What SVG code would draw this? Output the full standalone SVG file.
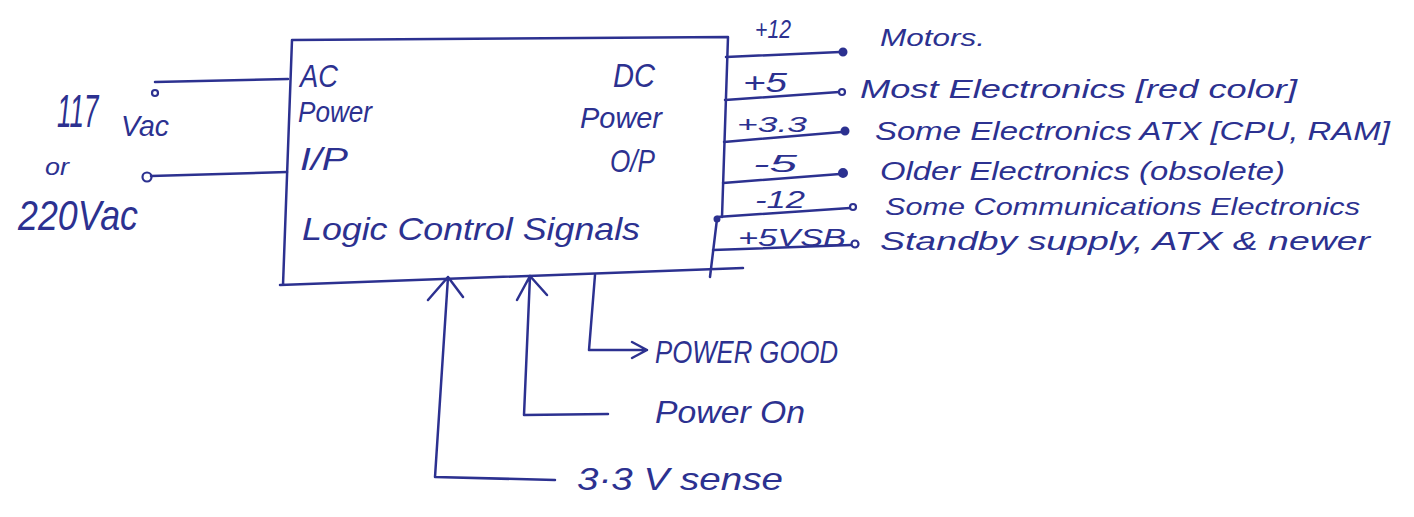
<svg xmlns="http://www.w3.org/2000/svg" width="1414" height="517" viewBox="0 0 1414 517">
<style>
.ink{fill:none;stroke:#2c3190;stroke-width:2.5;stroke-linecap:round;stroke-linejoin:round}
.dot{fill:#2c3190;stroke:#2c3190;stroke-width:2}
.odot{fill:#fff;stroke:#2c3190;stroke-width:2.2}
text{font-family:"Liberation Sans","DejaVu Sans",sans-serif;fill:#2c3190;font-style:italic}
</style>
<rect width="1414" height="517" fill="#fff"/>
<g id="psu">
<path class="ink" d="M292,40 L728,37 L722,217 M717,219 L710,277 M292,40 L283,285 M280,285 L743,268"/>
<circle class="dot" cx="717" cy="219" r="2.5"/>
<text x="300" y="87" font-size="32" textLength="38" lengthAdjust="spacingAndGlyphs">AC</text>
<text x="298" y="122" font-size="30" textLength="74" lengthAdjust="spacingAndGlyphs">Power</text>
<text x="300" y="170" font-size="32" textLength="48" lengthAdjust="spacingAndGlyphs">I/P</text>
<text x="613" y="87" font-size="34" textLength="42" lengthAdjust="spacingAndGlyphs">DC</text>
<text x="580" y="128" font-size="30" textLength="82" lengthAdjust="spacingAndGlyphs">Power</text>
<text x="610" y="172" font-size="32" textLength="45" lengthAdjust="spacingAndGlyphs">O/P</text>
<text x="302" y="240" font-size="32" textLength="338" lengthAdjust="spacingAndGlyphs">Logic Control Signals</text>
</g>
<g id="ac-input">
<text transform="translate(57,127) scale(1,1.8)" font-size="26">117</text>
<text x="121" y="136" font-size="30" textLength="48" lengthAdjust="spacingAndGlyphs">Vac</text>
<text x="45" y="175" font-size="24" textLength="24" lengthAdjust="spacingAndGlyphs">or</text>
<text x="18" y="230" font-size="42" textLength="120" lengthAdjust="spacingAndGlyphs">220Vac</text>
<circle class="odot" cx="155" cy="93" r="3"/>
<circle class="odot" cx="147" cy="177" r="4.5"/>
</g>
<g id="connectors">
<path class="ink" d="M155,82 L288,79"/>
<path class="ink" d="M151,176 L287,172"/>
<path class="ink" d="M726,57 L840,52"/>
<path class="ink" d="M725,100 L839,92"/>
<path class="ink" d="M724,142 L842,132"/>
<path class="ink" d="M723,183 L840,174"/>
<path class="ink" d="M717,217 L850,208"/>
<path class="ink" d="M713,250 L851,245"/>
<path class="ink" d="M555,480 L435,477 L448,277 M428,300 L448,277 L463,297"/>
<path class="ink" d="M608,414 L524,415 L530,276 M517,300 L530,276 L547,295"/>
<path class="ink" d="M595,275 L589,350 L647,350 M632,342 L647,350 L632,358"/>
</g>
<g id="outputs">
<circle class="dot" cx="843" cy="52" r="3.5"/>
<circle class="odot" cx="842" cy="92" r="3"/>
<circle class="dot" cx="845" cy="131" r="3.5"/>
<circle class="dot" cx="843" cy="173" r="4"/>
<circle class="odot" cx="853" cy="207" r="3"/>
<circle class="odot" cx="855" cy="244" r="3.5"/>
<text x="755" y="38" font-size="26" textLength="36" lengthAdjust="spacingAndGlyphs">+12</text>
<text x="743" y="92" font-size="28" textLength="44" lengthAdjust="spacingAndGlyphs">+5</text>
<text x="737" y="132" font-size="22" textLength="70" lengthAdjust="spacingAndGlyphs">+3.3</text>
<text x="753" y="172" font-size="24" textLength="44" lengthAdjust="spacingAndGlyphs">-5</text>
<text x="755" y="208" font-size="24" textLength="50" lengthAdjust="spacingAndGlyphs">-12</text>
<text x="738" y="246" font-size="24" textLength="108" lengthAdjust="spacingAndGlyphs">+5VSB</text>
<text x="880" y="46" font-size="24" textLength="105" lengthAdjust="spacingAndGlyphs">Motors.</text>
<text x="860" y="98" font-size="25" textLength="437" lengthAdjust="spacingAndGlyphs">Most Electronics [red color]</text>
<text x="875" y="140" font-size="25" textLength="515" lengthAdjust="spacingAndGlyphs">Some Electronics ATX [CPU, RAM]</text>
<text x="880" y="180" font-size="25" textLength="405" lengthAdjust="spacingAndGlyphs">Older Electronics (obsolete)</text>
<text x="885" y="215" font-size="24" textLength="475" lengthAdjust="spacingAndGlyphs">Some Communications Electronics</text>
<text x="880" y="250" font-size="25" textLength="490" lengthAdjust="spacingAndGlyphs">Standby supply, ATX &amp; newer</text>
</g>
<g id="signals">
<text x="655" y="363" font-size="32" textLength="183" lengthAdjust="spacingAndGlyphs">POWER GOOD</text>
<text x="655" y="423" font-size="32" textLength="150" lengthAdjust="spacingAndGlyphs">Power On</text>
<text x="577" y="490" font-size="32" textLength="206" lengthAdjust="spacingAndGlyphs">3·3 V sense</text>
</g>
</svg>
